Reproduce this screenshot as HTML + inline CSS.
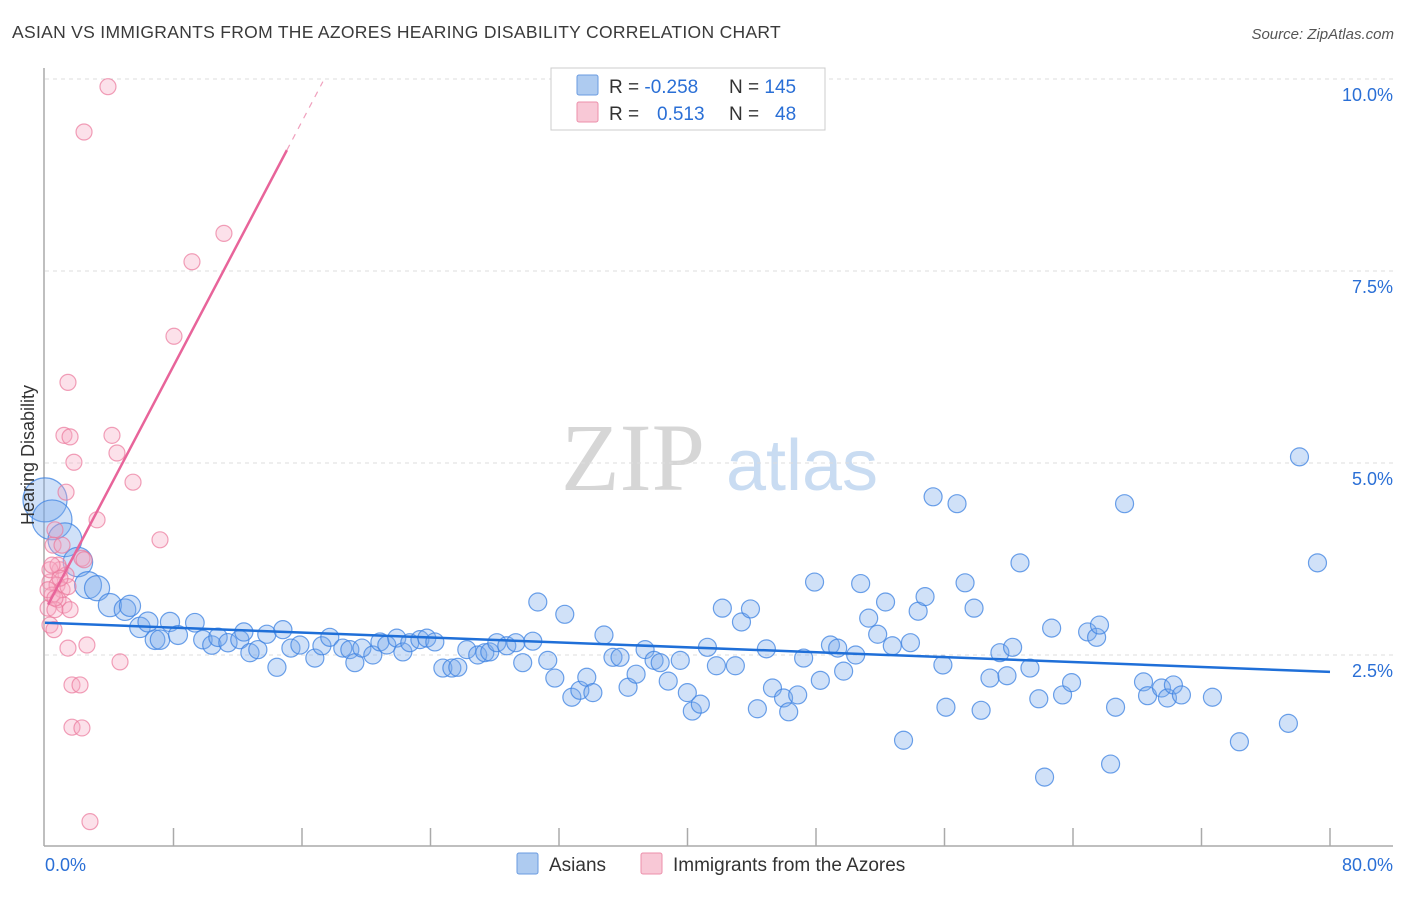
<!DOCTYPE html>
<html><head><meta charset="utf-8">
<style>
body{margin:0;background:#fff;font-family:"Liberation Sans",sans-serif;}
svg text{font-family:"Liberation Sans",sans-serif;}
</style></head>
<body>
<svg id="chart" width="1406" height="892" viewBox="0 0 1406 892" xmlns="http://www.w3.org/2000/svg">
<text x="12" y="38" font-size="17.5" fill="#3a3a3a" letter-spacing="0.3">ASIAN VS IMMIGRANTS FROM THE AZORES HEARING DISABILITY CORRELATION CHART</text>
<text x="1394" y="39" font-size="15" fill="#555" font-style="italic" text-anchor="end">Source: ZipAtlas.com</text>
<g>
<text x="633" y="490" font-size="96" fill="#d6d6d6" text-anchor="middle" style="font-family:'Liberation Serif',serif">ZIP</text>
<text x="802" y="490" font-size="72" fill="#c9dcf2" text-anchor="middle">atlas</text>
</g>
<g id="grid"></g>
<g id="axes"></g>
<g id="marks"></g>
<text transform="translate(34,455) rotate(-90)" font-size="18" fill="#333" text-anchor="middle">Hearing Disability</text>
<g>
<rect x="551" y="68" width="274" height="62" fill="#fff" stroke="#ccc"/>
<rect x="577" y="75" width="21" height="20" rx="2" fill="#aecbf0" stroke="#6a9be0"/>
<rect x="577" y="102" width="21" height="20" rx="2" fill="#f8c8d6" stroke="#ec8fab"/>
<text x="609" y="93" font-size="19" fill="#333">R = <tspan fill="#2a6fd6">-0.258</tspan></text>
<text x="729" y="93" font-size="19" fill="#333">N = <tspan fill="#2a6fd6">145</tspan></text>
<text x="609" y="120" font-size="19" fill="#333">R = <tspan fill="#2a6fd6" x="657">0.513</tspan></text>
<text x="729" y="120" font-size="19" fill="#333">N = <tspan fill="#2a6fd6" x="775">48</tspan></text>
</g>
<g>
<rect x="517" y="853" width="21" height="21" rx="2" fill="#aecbf0" stroke="#6a9be0"/>
<text x="549" y="871" font-size="19" fill="#333">Asians</text>
<rect x="641" y="853" width="21" height="21" rx="2" fill="#f8c8d6" stroke="#ec8fab"/>
<text x="673" y="871" font-size="19" fill="#333">Immigrants from the Azores</text>
</g>
</svg>
<script>
const xTickVals=[0,8,16,24,32,40,48,56,64,72,80];
const yTickVals=[2.5,5,7.5,10];
const yTickLabels=["2.5%","5.0%","7.5%","10.0%"];
const xEndLabels=["0.0%","80.0%"];
const asianX=[0,0.44,1.24,2.05,2.68,3.24,4.04,4.98,5.29,5.91,6.41,6.85,7.16,7.78,8.28,9.33,9.83,10.39,10.77,11.39,12.13,12.38,12.76,13.25,13.81,14.44,14.81,15.31,15.87,16.8,17.24,17.73,18.54,18.98,19.29,19.73,20.41,20.85,21.28,21.9,22.28,22.71,23.34,23.77,24.27,24.77,25.33,25.7,26.26,26.94,27.38,27.69,28.13,28.75,29.31,29.74,30.37,30.68,31.3,31.74,32.36,32.8,33.3,33.73,34.11,34.8,35.36,35.8,36.3,36.8,37.36,37.92,38.3,38.8,39.55,39.99,40.3,40.8,41.24,41.8,42.17,42.98,43.36,43.92,44.35,44.91,45.29,45.98,46.3,46.86,47.23,47.91,48.27,48.9,49.35,49.72,50.47,50.78,51.28,51.84,52.33,52.75,53.45,53.88,54.36,54.79,55.29,55.9,56.09,56.78,57.28,57.84,58.28,58.83,59.45,59.89,60.24,60.7,61.32,61.87,62.23,62.67,63.35,63.91,64.91,65.47,65.65,66.34,66.65,67.21,68.39,68.64,69.51,69.88,70.25,70.75,72.68,74.36,77.41,78.1,79.22];
const asianY=[4.52,4.26,4.0,3.71,3.41,3.37,3.15,3.09,3.14,2.86,2.93,2.7,2.7,2.93,2.76,2.92,2.7,2.63,2.73,2.66,2.7,2.8,2.53,2.57,2.77,2.34,2.83,2.59,2.63,2.46,2.62,2.73,2.59,2.57,2.4,2.59,2.5,2.67,2.63,2.72,2.54,2.66,2.7,2.72,2.67,2.33,2.33,2.34,2.57,2.5,2.53,2.54,2.66,2.62,2.66,2.4,2.68,3.19,2.43,2.2,3.03,1.95,2.04,2.21,2.01,2.76,2.47,2.47,2.08,2.25,2.57,2.43,2.4,2.16,2.43,2.01,1.77,1.86,2.6,2.36,3.11,2.36,2.93,3.1,1.8,2.58,2.07,1.94,1.76,1.98,2.46,3.45,2.17,2.63,2.59,2.29,2.5,3.43,2.98,2.77,3.19,2.62,1.39,2.66,3.07,3.26,4.56,2.37,1.82,4.47,3.44,3.11,1.78,2.2,2.53,2.23,2.6,3.7,2.33,1.93,0.91,2.85,1.98,2.14,2.8,2.73,2.89,1.08,1.82,4.47,2.15,1.97,2.07,1.94,2.11,1.98,1.95,1.37,1.61,5.08,3.7];
const azoresX=[3.92,2.43,11.14,9.15,8.03,1.43,1.18,1.56,4.17,4.48,1.8,5.48,1.31,3.24,7.16,0.62,0.5,1.06,2.3,2.43,0.93,1.31,0.31,0.75,1.06,1.43,0.44,0.81,1.18,0.19,0.62,1.56,0.31,0.56,1.43,2.61,4.67,1.68,2.18,1.68,2.3,2.8,0.31,0.81,0.19,0.62,0.93,0.44];
const azoresY=[9.9,9.31,7.99,7.62,6.65,6.05,5.36,5.34,5.36,5.13,5.01,4.75,4.62,4.26,4.0,4.13,3.93,3.93,3.76,3.74,3.61,3.54,3.45,3.41,3.35,3.39,3.28,3.22,3.15,3.11,3.09,3.09,2.89,2.83,2.59,2.63,2.41,2.11,2.11,1.56,1.55,0.33,3.61,3.67,3.35,3.24,3.5,3.67];
const asianTrend=[2.92,-0.0080];
const azoresTrend=[3.08,0.398];

const NS="http://www.w3.org/2000/svg";
const X0=45,XS=(1330-45)/80,Y0=847,YS=76.8;
const sx=v=>X0+v*XS, sy=v=>Y0-v*YS;
function mk(tag,attrs,parent){const e=document.createElementNS(NS,tag);for(const k in attrs)e.setAttribute(k,attrs[k]);parent.appendChild(e);return e;}
const grid=document.getElementById('grid'),axes=document.getElementById('axes'),marks=document.getElementById('marks');
yTickVals.forEach((v,i)=>{
  const l=mk('line',{x1:45,x2:1393,y1:sy(v),y2:sy(v),stroke:'#ddd','stroke-dasharray':'4,4'},grid);
  
  
  const t=mk('text',{x:1393,y:sy(v)+22,'font-size':18,fill:'#2a6fd6','text-anchor':'end'},axes);
  t.textContent=yTickLabels[i];
  
  
});
const ya=mk('line',{x1:44,x2:44,y1:68,y2:846,stroke:'#aaa','stroke-width':1.5},axes);


const xa=mk('line',{x1:44,x2:1393,y1:846,y2:846,stroke:'#aaa','stroke-width':1.5},axes);


xTickVals.forEach(v=>{
  if(v===0)return;
  const t=mk('line',{x1:sx(v),x2:sx(v),y1:828,y2:846,stroke:'#aaa','stroke-width':1.5},axes);
  
  
});
const xl0=mk('text',{x:45,y:871,'font-size':18,fill:'#2a6fd6'},axes);
xl0.textContent=xEndLabels[0];


const xl1=mk('text',{x:1393,y:871,'font-size':18,fill:'#2a6fd6','text-anchor':'end'},axes);
xl1.textContent=xEndLabels[1];



asianX.forEach((x,i)=>{
  const r=9+13*Math.exp(-x/2.5);
  const c=mk('circle',{cx:sx(x),cy:sy(asianY[i]),r:r,fill:'rgba(120,170,235,0.35)',stroke:'rgba(60,130,225,0.75)','stroke-width':1.2},marks);
  
  
});
azoresX.forEach((x,i)=>{
  const c=mk('circle',{cx:sx(x),cy:sy(azoresY[i]),r:8,fill:'rgba(245,170,195,0.35)',stroke:'rgba(235,120,155,0.7)','stroke-width':1.2},marks);
  
  
});
const bl=mk('line',{x1:sx(0),y1:sy(asianTrend[0]),x2:sx(80),y2:sy(asianTrend[0]+asianTrend[1]*80),stroke:'#1f6fd8','stroke-width':2.5},marks);


const xs0=0.19,xs1=15.06,xs2=17.3;
const pl=mk('line',{x1:sx(xs0),y1:sy(azoresTrend[0]+azoresTrend[1]*xs0),x2:sx(xs1),y2:sy(azoresTrend[0]+azoresTrend[1]*xs1),stroke:'#e8649a','stroke-width':2.5},marks);


const pd=mk('line',{x1:sx(xs1),y1:sy(azoresTrend[0]+azoresTrend[1]*xs1),x2:sx(xs2),y2:sy(azoresTrend[0]+azoresTrend[1]*xs2),stroke:'#f0a0bd','stroke-width':1.2,'stroke-dasharray':'6,6'},marks);


const topGrid=mk('line',{x1:45,x2:1393,y1:sy(10),y2:sy(10),stroke:'#ddd','stroke-dasharray':'4,4'},grid);


</script>
</body></html>
